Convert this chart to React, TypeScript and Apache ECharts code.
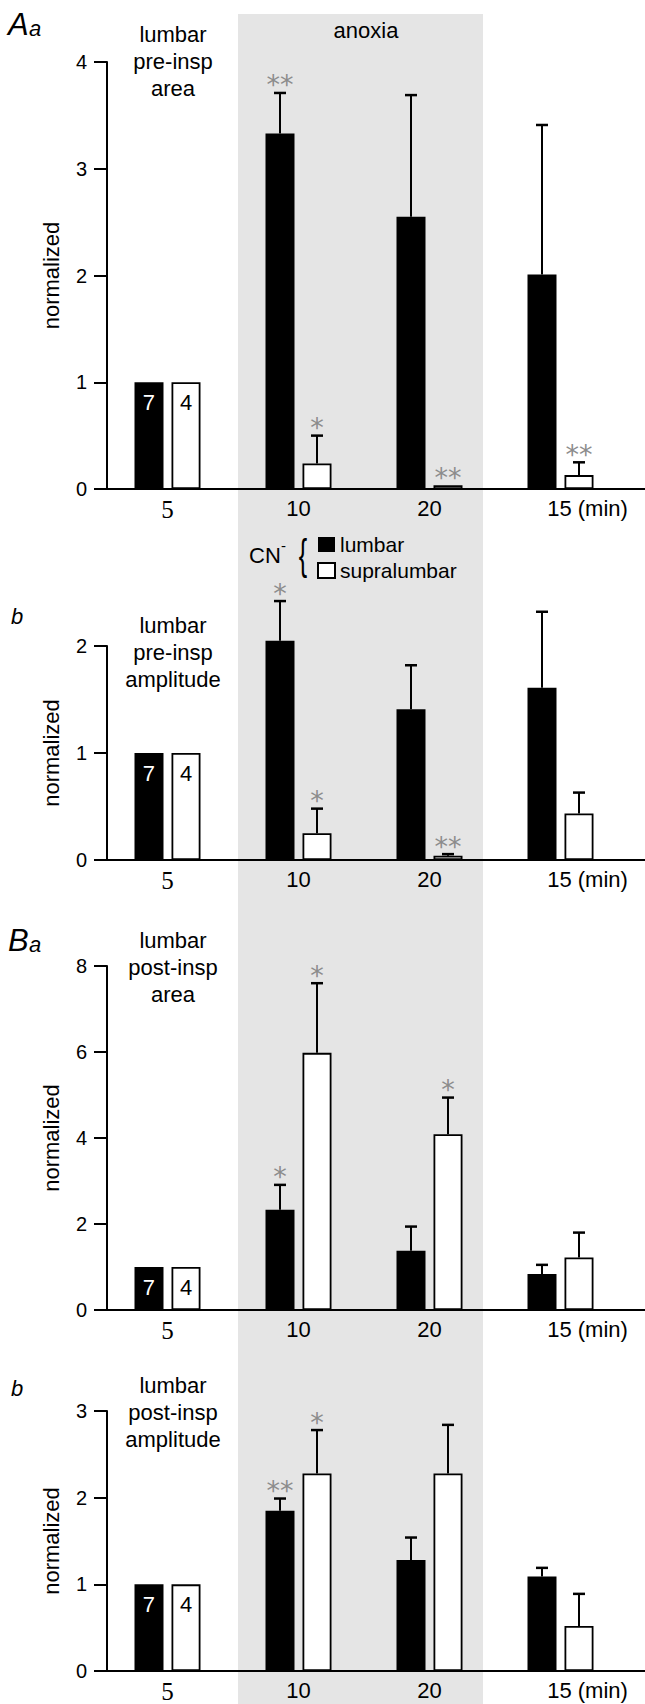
import React, { useEffect, useRef } from 'react';
import * as echarts from 'echarts';

const CATEGORIES = ['5', '10', '20', '15'];

// Panel Aa: lumbar pre-insp area
const AA_LUMBAR = [1, 3.33, 2.55, 2.01];
const AA_LUMBAR_ERR = [1, 3.71, 3.69, 3.41];
const AA_LUMBAR_SIG = ['', '**', '', ''];
const AA_SUPRA = [1, 0.24, 0.035, 0.13];
const AA_SUPRA_ERR = [1, 0.5, 0.035, 0.25];
const AA_SUPRA_SIG = ['', '*', '**', '**'];

// Panel Ab: lumbar pre-insp amplitude
const AB_LUMBAR = [1, 2.05, 1.41, 1.61];
const AB_LUMBAR_ERR = [1, 2.42, 1.82, 2.32];
const AB_LUMBAR_SIG = ['', '*', '', ''];
const AB_SUPRA = [1, 0.25, 0.04, 0.435];
const AB_SUPRA_ERR = [1, 0.48, 0.055, 0.63];
const AB_SUPRA_SIG = ['', '*', '**', ''];

// Panel Ba: lumbar post-insp area
const BA_LUMBAR = [1, 2.33, 1.38, 0.84];
const BA_LUMBAR_ERR = [1, 2.91, 1.94, 1.05];
const BA_LUMBAR_SIG = ['', '*', '', ''];
const BA_SUPRA = [1, 5.98, 4.09, 1.22];
const BA_SUPRA_ERR = [1, 7.6, 4.94, 1.8];
const BA_SUPRA_SIG = ['', '*', '*', ''];

// Panel Bb: lumbar post-insp amplitude
const BB_LUMBAR = [1, 1.85, 1.28, 1.09];
const BB_LUMBAR_ERR = [1, 1.99, 1.54, 1.19];
const BB_LUMBAR_SIG = ['', '**', '', ''];
const BB_SUPRA = [1, 2.28, 2.28, 0.52];
const BB_SUPRA_ERR = [1, 2.78, 2.84, 0.89];
const BB_SUPRA_SIG = ['', '*', '', ''];

const Y_MAX = [4, 2, 8, 3];
const Y_INTERVAL = [1, 1, 2, 1];
const PANEL_TITLES = ['lumbar\npre-insp\narea', 'lumbar\npre-insp\namplitude', 'lumbar\npost-insp\narea', 'lumbar\npost-insp\namplitude'];
const N_LUMBAR = '7';
const N_SUPRA = '4';
const SERIES_NAMES = ['lumbar', 'supralumbar'];

const FONT = "'Liberation Sans', Arial, sans-serif";

// layout
const GRID_LEFT = 102;
const GRID_W = 524;
const GRIDS = [
  { top: 62, height: 427, titleY: 61, letterY: 24, letter: 'Aa' },
  { top: 646, height: 214, titleY: 652, letterY: 616, letter: 'b' },
  { top: 966, height: 344, titleY: 967, letterY: 940, letter: 'Ba' },
  { top: 1411, height: 260, titleY: 1412, letterY: 1388, letter: 'b' },
];
const BAR_W = 29;
const BAR_GAP = 8;

export default function App() {
  const ref = useRef<HTMLDivElement>(null);
  useEffect(() => {
    if (!ref.current) return;
    const chart = echarts.init(ref.current, undefined, { renderer: 'svg' });

    const panels = [
      { l: AA_LUMBAR, le: AA_LUMBAR_ERR, ls: AA_LUMBAR_SIG, s: AA_SUPRA, se: AA_SUPRA_ERR, ss: AA_SUPRA_SIG },
      { l: AB_LUMBAR, le: AB_LUMBAR_ERR, ls: AB_LUMBAR_SIG, s: AB_SUPRA, se: AB_SUPRA_ERR, ss: AB_SUPRA_SIG },
      { l: BA_LUMBAR, le: BA_LUMBAR_ERR, ls: BA_LUMBAR_SIG, s: BA_SUPRA, se: BA_SUPRA_ERR, ss: BA_SUPRA_SIG },
      { l: BB_LUMBAR, le: BB_LUMBAR_ERR, ls: BB_LUMBAR_SIG, s: BB_SUPRA, se: BB_SUPRA_ERR, ss: BB_SUPRA_SIG },
    ];

    const errRender = (off: number, sig: string[]) => (params: any, api: any) => {
      const ci = api.value(0);
      const v = api.value(1);
      const e = api.value(2);
      const base = api.coord([ci, v]);
      const top = api.coord([ci, e]);
      const x = base[0] + off;
      const children: any[] = [];
      if (e > v + 1e-9) {
        children.push({ type: 'line', shape: { x1: x, y1: base[1], x2: x, y2: top[1] }, style: { stroke: '#000', lineWidth: 2 } });
        children.push({ type: 'line', shape: { x1: x - 6, y1: top[1], x2: x + 6, y2: top[1] }, style: { stroke: '#000', lineWidth: 2.5 } });
      }
      const s = sig[params.dataIndex];
      if (s) {
        children.push({
          type: 'text',
          x,
          y: top[1] - 8,
          style: { text: s, fill: '#8c8c8c', fontSize: 27, fontFamily: 'DejaVu Sans', align: 'center', verticalAlign: 'middle' },
        });
      }
      return { type: 'group', children };
    };

    const series: any[] = [];
    const off = (BAR_W + BAR_GAP) / 2;
    panels.forEach((p, i) => {
      series.push({
        type: 'bar', name: SERIES_NAMES[0], xAxisIndex: i, yAxisIndex: i,
        barWidth: BAR_W, barGap: (BAR_GAP / BAR_W * 100).toFixed(1) + '%',
        clip: false, z: 3,
        itemStyle: { color: '#000' },
        data: p.l.map((v, j) => j === 0 ? {
          value: v,
          label: { show: true, position: 'insideTop', distance: 9, formatter: N_LUMBAR, color: '#fff', fontSize: 22, fontFamily: FONT },
        } : v),
      });
      series.push({
        type: 'bar', name: SERIES_NAMES[1], xAxisIndex: i, yAxisIndex: i,
        barWidth: BAR_W, barGap: (BAR_GAP / BAR_W * 100).toFixed(1) + '%',
        clip: false, z: 3,
        itemStyle: { color: '#fff', borderColor: '#000', borderWidth: 1.8 },
        data: p.s.map((v, j) => j === 0 ? {
          value: v,
          label: { show: true, position: 'insideTop', distance: 9, formatter: N_SUPRA, color: '#000', fontSize: 22, fontFamily: FONT },
        } : v),
      });
      series.push({
        type: 'custom', xAxisIndex: i, yAxisIndex: i, z: 4, silent: true,
        encode: { x: 0, y: [1, 2] },
        data: p.l.map((v, j) => [j, v, p.le[j]]),
        renderItem: errRender(-off, p.ls),
      });
      series.push({
        type: 'custom', xAxisIndex: i, yAxisIndex: i, z: 4, silent: true,
        encode: { x: 0, y: [1, 2] },
        data: p.s.map((v, j) => [j, v, p.se[j]]),
        renderItem: errRender(off, p.ss),
      });
    });

    const graphic: any[] = [
      { type: 'rect', z: -10, silent: true, shape: { x: 238, y: 14, width: 245, height: 1690 }, style: { fill: '#e5e5e5' } },
      { type: 'text', x: 366, y: 30, style: { text: 'anoxia', fontSize: 22, fontFamily: FONT, fill: '#000', align: 'center', verticalAlign: 'middle' } },
      { type: 'text', x: 249, y: 555, style: { text: 'CN', fontSize: 22, fontFamily: FONT, fill: '#000', align: 'left', verticalAlign: 'middle' } },
      { type: 'text', x: 281, y: 545, style: { text: '-', fontSize: 15, fontFamily: FONT, fill: '#000', align: 'left', verticalAlign: 'middle' } },
      { type: 'text', x: 303, y: 554, scaleX: 0.6, style: { text: '{', fontSize: 42, fontFamily: FONT, fill: '#000', align: 'center', verticalAlign: 'middle' } },
    ];
    GRIDS.forEach((g, i) => {
      const by = g.top + g.height;
      graphic.push({ type: 'line', z: 5, shape: { x1: 94, y1: by, x2: 645, y2: by }, style: { stroke: '#000', lineWidth: 2 } });
      graphic.push({ type: 'text', x: 173, y: g.titleY, style: { text: PANEL_TITLES[i], fontSize: 22, lineHeight: 27, fontFamily: FONT, fill: '#000', align: 'center', verticalAlign: 'middle' } });
      if (g.letter.length === 2) {
        graphic.push({ type: 'text', x: 8, y: g.letterY, style: { text: g.letter[0], fontSize: 31, fontStyle: 'italic', fontFamily: FONT, fill: '#000', align: 'left', verticalAlign: 'middle' } });
        graphic.push({ type: 'text', x: 29, y: g.letterY + 4, style: { text: g.letter[1], fontSize: 22, fontStyle: 'italic', fontFamily: FONT, fill: '#000', align: 'left', verticalAlign: 'middle' } });
      } else {
        graphic.push({ type: 'text', x: 11, y: g.letterY, style: { text: g.letter, fontSize: 22, fontStyle: 'italic', fontFamily: FONT, fill: '#000', align: 'left', verticalAlign: 'middle' } });
      }
    });

    chart.setOption({
      animation: false,
      backgroundColor: '#fff',
      grid: GRIDS.map((g) => ({ left: GRID_LEFT, top: g.top, width: GRID_W, height: g.height })),
      xAxis: GRIDS.map((g, i) => ({
        type: 'category', gridIndex: i, data: CATEGORIES,
        axisTick: { show: false },
        axisLine: { show: true, lineStyle: { color: '#000', width: 2 } },
        axisLabel: {
          interval: 0, margin: 8, color: '#000', fontSize: 22, fontFamily: FONT,
          formatter: (v: string, idx: number) => idx === 0 ? '{s|' + v + '}' : idx === CATEGORIES.length - 1 ? '{m|' + v + ' (min)}' : v,
          rich: {
            s: { fontFamily: 'Liberation Serif', fontSize: 25, color: '#000' },
            m: { fontFamily: FONT, fontSize: 22, color: '#000', padding: [0, 0, 0, 54] },
          },
        },
      })),
      yAxis: GRIDS.map((g, i) => ({
        type: 'value', gridIndex: i, min: 0, max: Y_MAX[i], interval: Y_INTERVAL[i], offset: -5,
        axisLine: { show: true, lineStyle: { color: '#000', width: 2 } },
        axisTick: { show: true, length: 13, lineStyle: { color: '#000', width: 2 } },
        axisLabel: { margin: 20, fontSize: 20, color: '#000', fontFamily: FONT },
        splitLine: { show: false },
        name: 'normalized', nameLocation: 'middle', nameGap: 45,
        nameTextStyle: { fontSize: 22, color: '#000', fontFamily: FONT },
      })),
      legend: {
        data: SERIES_NAMES, orient: 'vertical', left: 312, top: 529, itemWidth: 17, itemHeight: 15, itemGap: 5,
        icon: 'rect', selectedMode: false,
        textStyle: { fontSize: 21, color: '#000', fontFamily: FONT },
      },
      graphic,
      series,
    });
    return () => chart.dispose();
  }, []);
  return <div ref={ref} style={{ position: 'absolute', left: 0, top: 0, width: 645, height: 1704 }} />;
}
